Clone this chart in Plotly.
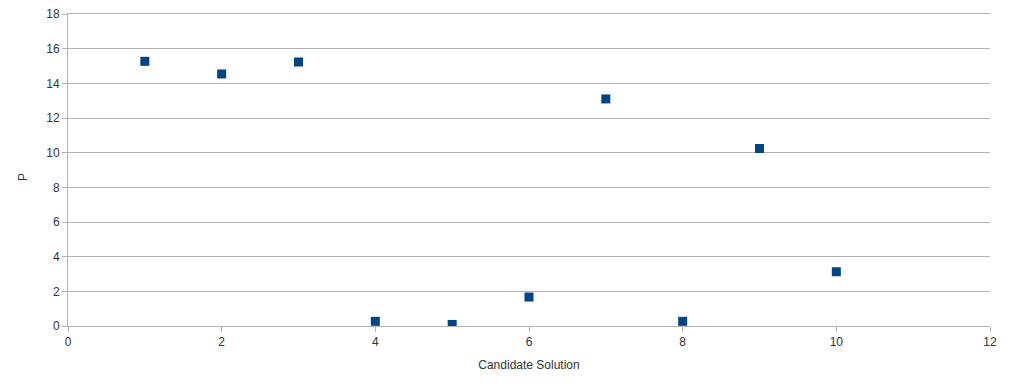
import plotly.graph_objects as go

candidates = [1, 2, 3, 4, 5, 6, 7, 8, 9, 10]
p_values = [15.27, 14.54, 15.23, 0.27, 0.09, 1.67, 13.1, 0.27, 10.24, 3.13]

fig = go.Figure()
fig.add_trace(go.Scatter(
    x=candidates, y=p_values, mode="markers",
    marker=dict(symbol="square", size=9, color="#004586", line=dict(width=0)),
    showlegend=False,
))

grid = "#b3b3b3"
fig.update_layout(
    width=1023, height=388,
    margin=dict(l=60, r=41, t=6, b=70),
    paper_bgcolor="white", plot_bgcolor="white",
    font=dict(family="Liberation Sans, Arial, sans-serif", size=12, color="#333333"),
    xaxis=dict(
        range=[0, 12], dtick=2, tick0=0, showgrid=False, zeroline=False,
        showline=True, linecolor=grid, linewidth=1, mirror=True,
        ticks="outside", ticklen=5, tickcolor=grid, automargin=False,
        ticklabeloverflow="allow",
        title=dict(text="Candidate Solution", font=dict(size=12), standoff=12),
    ),
    yaxis=dict(
        range=[0, 18], dtick=2, tick0=0, showgrid=True, gridcolor=grid, gridwidth=1,
        zeroline=False, showline=True, linecolor=grid, linewidth=1,
        ticks="outside", ticklen=5, tickcolor=grid, automargin=False,
        ticklabeloverflow="allow",
    ),
    annotations=[dict(
        text="P", xref="paper", yref="paper", x=0, y=0.5,
        xanchor="center", yanchor="middle", xshift=-45, yshift=-7,
        textangle=-90, showarrow=False, font=dict(size=12, color="#333333"),
    )],
)
fig.write_html("out.html")
